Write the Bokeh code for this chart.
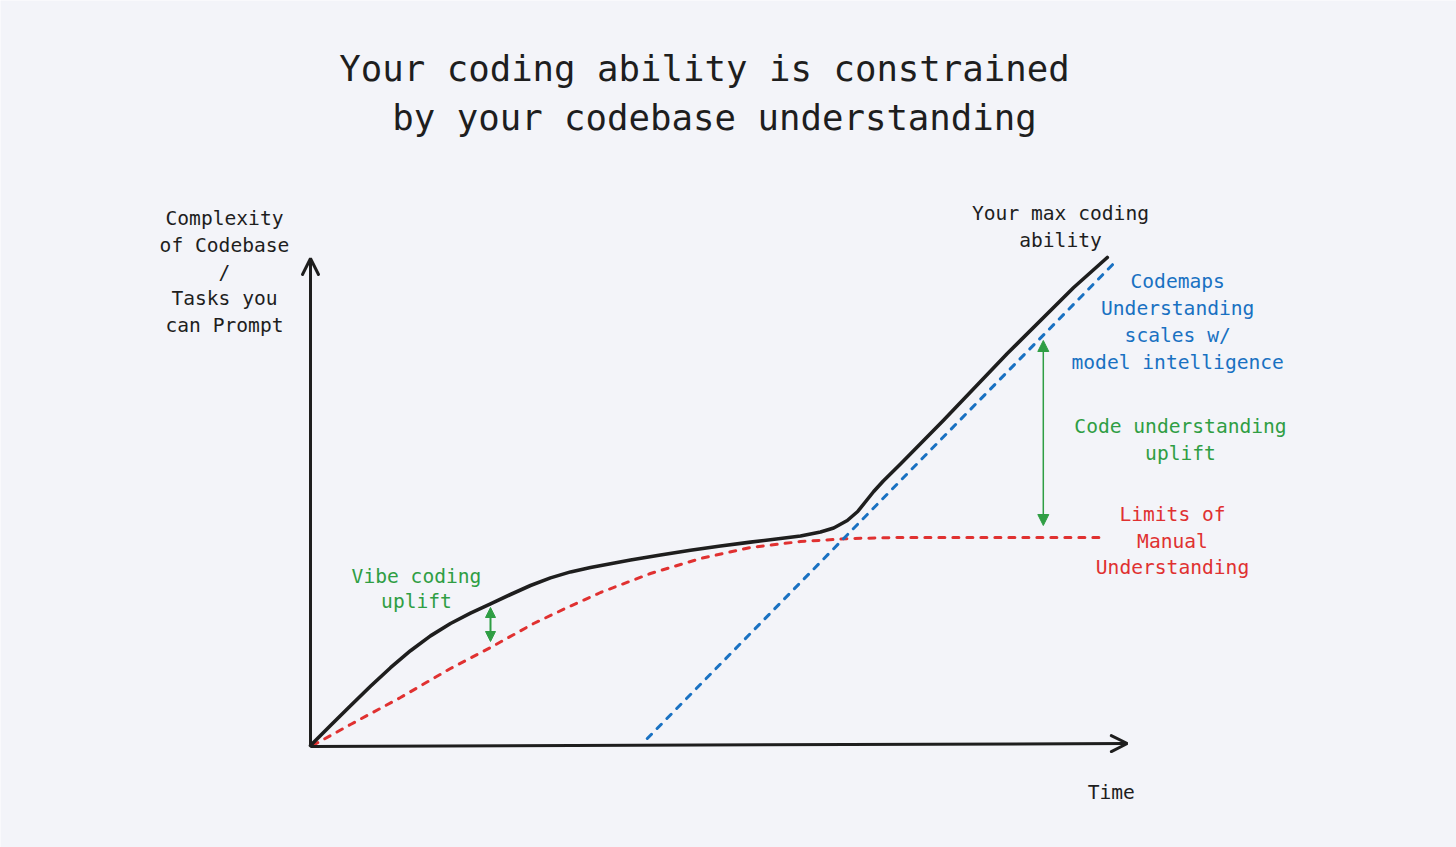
from bokeh.plotting import figure
from bokeh.models import Range1d, Arrow, OpenHead, NormalHead, ColumnDataSource
from bokeh.core.properties import value
from bokeh.embed import file_html
from bokeh.resources import INLINE

BG = "#f3f4f9"
INK = "#1e1e1e"
RED = "#e03131"
BLUE = "#1971c2"
GREEN = "#2f9e44"
FONT = "DejaVu Sans Mono"

# ---- data (conceptual units: time 0..100, complexity 0..100) ----
max_time = [0, 2.5, 5, 7.5, 10, 12.5, 15, 17.5, 20, 22.5, 25, 27.5, 30, 32.5, 35, 37.5, 40,
            43.75, 47.5, 51.25, 55, 58.75, 61.25, 63.75, 65.4, 67.1, 68.4, 69.4, 70.4, 71.6,
            73.75, 79.1, 87.1, 95.4, 99.6]
max_ability = [0, 4, 7.96, 11.84, 15.56, 18.96, 21.92, 24.4, 26.48, 28.32, 30.2, 32, 33.52,
               34.72, 35.6, 36.36, 37.08, 38.1, 39.06, 39.9, 40.68, 41.4, 41.9, 42.7, 43.5,
               45, 46.8, 48.8, 50.8, 52.9, 56.3, 65, 78.4, 91.6, 97.6]

manual_time = [0.25, 5, 11.25, 17.5, 22.5, 27.9, 32.1, 36.25, 42.5, 48.75, 55, 61.25, 67.5, 73.75, 86.25, 99]
manual_limit = [0, 4.2, 9.6, 15.4, 19.6, 24.4, 27.6, 30.6, 34.4, 37.4, 39.6, 40.8, 41.4, 41.6, 41.6, 41.6]

codemaps_time = [42.1, 100.4]
codemaps_understanding = [1.4, 96.4]

title_lines = ["Your coding ability is constrained", "by your codebase understanding"]
ylabel_lines = ["Complexity", "of Codebase", "/", "Tasks you", "can Prompt"]
max_label = ["Your max coding", "ability"]
codemaps_label = ["Codemaps", "Understanding", "scales w/", "model intelligence"]
code_uplift_label = ["Code understanding", "uplift"]
manual_label = ["Limits of", "Manual", "Understanding"]
vibe_label = ["Vibe coding", "uplift"]
xlabel = ["Time"]

p = figure(width=1456, height=847, output_backend="svg", toolbar_location=None,
           x_range=Range1d(-38.75, 143.25), y_range=Range1d(-20.4, 149),
           min_border=0, background_fill_color=BG, border_fill_color=BG)
p.axis.visible = False
p.grid.visible = False
p.outline_line_color = None

# axes drawn as arrows
p.add_layout(Arrow(x_start=0, y_start=0, x_end=0, y_end=97.4, line_color=INK, line_width=3,
                   end=OpenHead(size=16, line_width=3, line_color=INK, line_cap="round")))
p.add_layout(Arrow(x_start=0, y_start=-0.2, x_end=102.1, y_end=0.4, line_color=INK, line_width=3,
                   end=OpenHead(size=16, line_width=3, line_color=INK, line_cap="round")))

# curves
p.line(manual_time, manual_limit, line_color=RED, line_width=3, line_dash="6 8", line_cap="round")
p.line(codemaps_time, codemaps_understanding, line_color=BLUE, line_width=3, line_dash="6 8", line_cap="round")
p.line(max_time, max_ability, line_color=INK, line_width=3.6, line_cap="round", line_join="round")

# uplift arrows
def dbl_arrow(x, y0, y1, w, s):
    p.add_layout(Arrow(x_start=x, y_start=y0, x_end=x, y_end=y1, line_color=GREEN, line_width=w,
                       start=NormalHead(size=s, fill_color=GREEN, line_color=GREEN, line_width=1),
                       end=NormalHead(size=s, fill_color=GREEN, line_color=GREEN, line_width=1)))

dbl_arrow(22.5, 20.8, 27.6, 2, 10)
dbl_arrow(91.6, 44.0, 81.0, 1.5, 11)

def label(lines, x, y0, dy, color, size="19.6px"):
    ys = [y0 - i * dy for i in range(len(lines))]
    src = ColumnDataSource(dict(x=[x] * len(lines), y=ys, text=lines))
    p.text(x="x", y="y", text="text", source=src, text_align="center", text_baseline="middle",
           text_font=value(FONT), text_font_size=size, text_color=color)

label(title_lines[:1], 49.25, 135.4, 0, INK, "35.7px")
label(title_lines[1:], 50.5, 125.6, 0, INK, "35.7px")
label(ylabel_lines, -10.75, 105.4, 5.35, INK)
label(max_label, 93.75, 106.4, 5.4, INK)
label(codemaps_label, 108.4, 92.8, 5.4, BLUE)
label(code_uplift_label, 108.75, 63.8, 5.4, GREEN)
label(manual_label, 107.75, 46.2, 5.3, RED)
label(vibe_label, 13.25, 33.8, 5.0, GREEN)
label(xlabel, 100.1, -9.4, 0, INK)

open("out.html", "w").write(file_html(p, INLINE, title="chart"))
